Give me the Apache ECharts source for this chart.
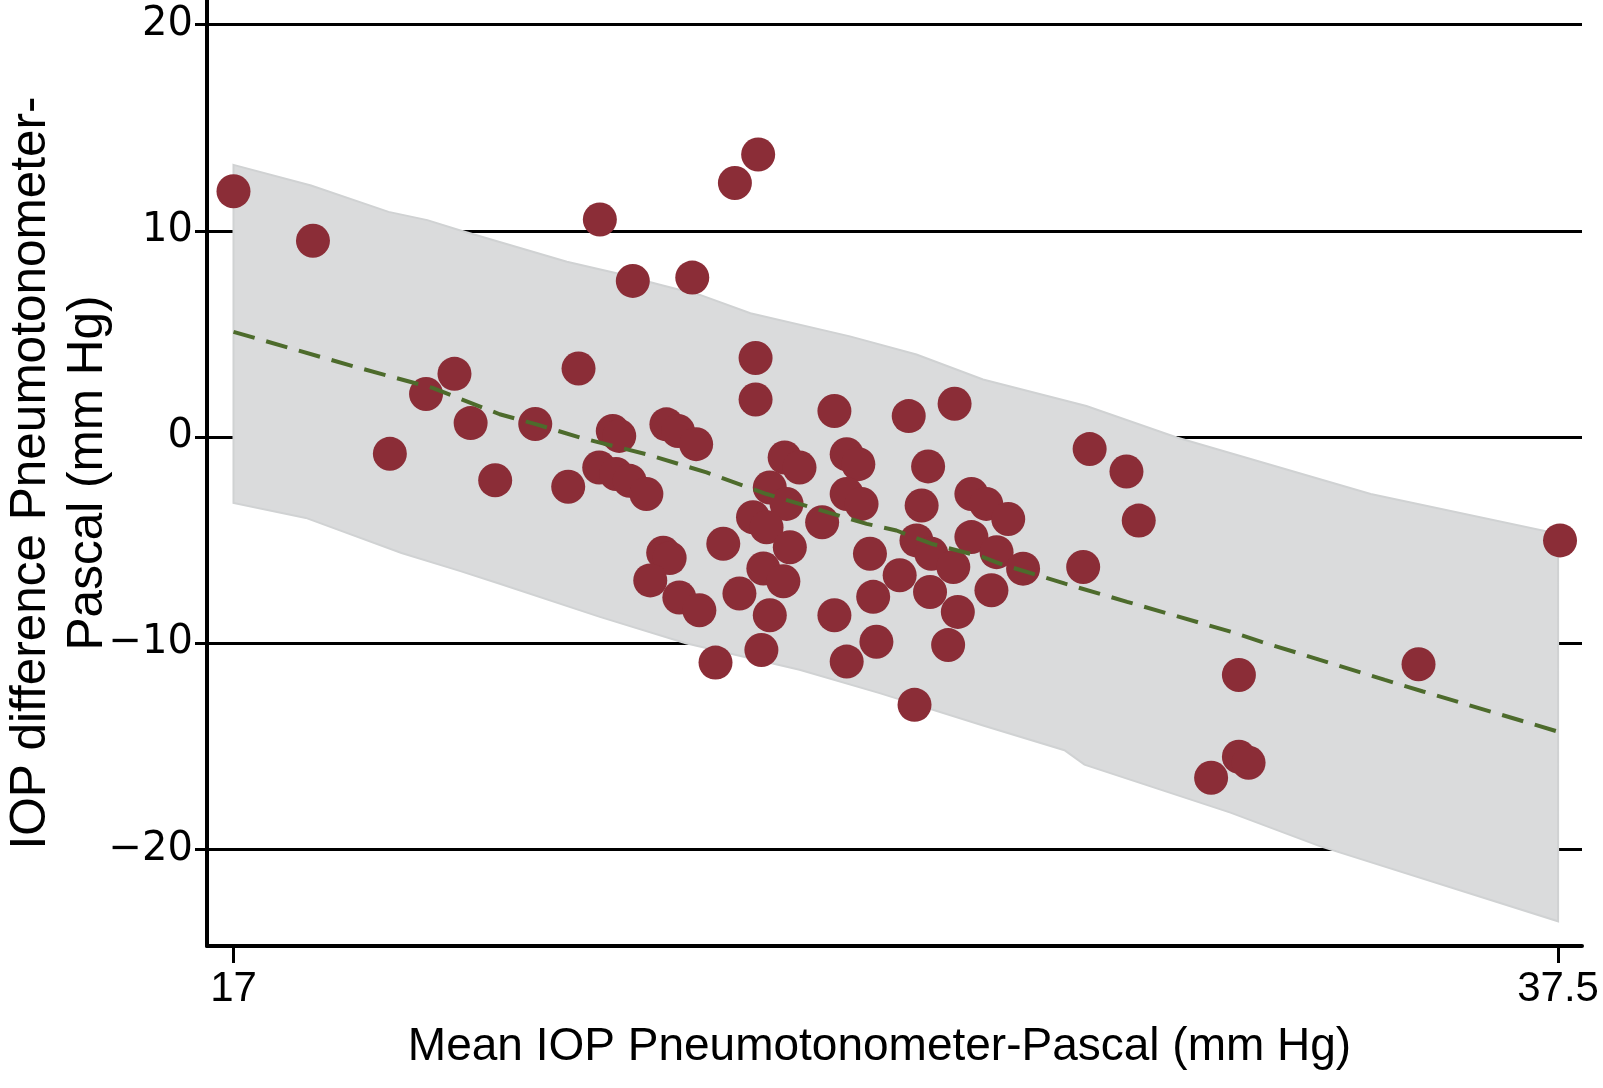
<!DOCTYPE html>
<html>
<head>
<meta charset="utf-8">
<title>IOP difference vs mean</title>
<script src="https://cdn.jsdelivr.net/npm/echarts@6/dist/echarts.min.js"></script>
<style>
  html, body { margin: 0; padding: 0; background: #fff; }
  #chart { width: 1603px; height: 1088px; }
</style>
</head>
<body>
<div id="chart"></div>
<script>
// [mean IOP, difference] per eye, mm Hg
const points = [
  [17.00, 11.92], [18.23, 9.52], [19.42, -0.82], [19.98, 2.08], [20.42, 3.06],
  [20.67, 0.67], [21.05, -2.10], [21.67, 0.63], [22.18, -2.42], [22.34, 3.32],
  [22.67, 10.55], [23.18, 7.57], [24.10, 7.73], [24.76, 12.32], [25.12, 13.70],
  [22.87, 0.29], [22.97, 0.05], [23.70, 0.61], [23.88, 0.29], [24.16, -0.35],
  [22.66, -1.48], [22.92, -1.80], [23.13, -2.13], [23.39, -2.77], [23.65, -5.62],
  [23.75, -5.88], [24.58, -5.18], [23.45, -6.96], [23.90, -7.79], [24.21, -8.41],
  [24.83, -7.60], [24.46, -10.95],
  [25.08, 3.83], [25.08, 1.82], [26.30, 1.26], [25.53, -1.00], [25.76, -1.48],
  [26.49, -0.84], [26.67, -1.32], [25.30, -2.45], [25.56, -3.25], [26.49, -2.77],
  [26.72, -3.25], [26.11, -4.14], [25.04, -3.90], [25.25, -4.38], [25.61, -5.35],
  [25.20, -6.38], [25.51, -7.00], [25.30, -8.65], [25.17, -10.34], [26.30, -8.65],
  [26.85, -5.67], [26.90, -7.76], [26.95, -9.94], [26.49, -10.90],
  [27.45, 1.01], [28.16, 1.61], [27.75, -1.43], [27.65, -3.33], [28.42, -2.77],
  [28.65, -3.25], [28.99, -3.98], [27.57, -5.02], [27.80, -5.67], [28.14, -6.31],
  [28.42, -4.86], [28.81, -5.59], [29.22, -6.39], [27.31, -6.71], [27.78, -7.52],
  [28.73, -7.44], [28.21, -8.49], [28.06, -10.10], [27.54, -13.00],
  [30.25, -0.59], [30.82, -1.68], [31.01, -4.06], [30.15, -6.31], [32.56, -11.55],
  [32.56, -15.52], [32.71, -15.81], [32.13, -16.54], [35.34, -11.03], [37.53, -5.02]
];

// smoothed difference (dashed line)
const fitX = [17, 18.85, 20.08, 21.12, 21.69, 22.36, 23.39, 24.32, 25.25, 26.80, 27.26, 27.80, 28.60, 28.86, 29.87, 30.83, 32.43, 32.91, 34.82, 35.41, 37.5];
const fitY = [5.1, 3.43, 2.38, 1.10, 0.61, -0.03, -0.84, -1.72, -2.77, -4.22, -4.54, -5.18, -5.83, -6.15, -7.12, -8.0, -9.45, -9.94, -11.79, -12.35, -14.3];

// limits band (grey area)
const upperX = [17, 18.2, 19.4, 20.0, 20.5, 22.16, 22.93, 23.6, 24.22, 25.0, 26.54, 27.57, 28.6, 30.2, 31.6, 34.6, 37.5];
const upperY = [13.2, 12.2, 10.92, 10.52, 10.03, 8.5, 7.94, 7.38, 6.89, 6.0, 4.88, 4.0, 2.79, 1.5, -0.03, -2.77, -4.7];
const lowerX = [17, 18.12, 19.6, 20.5, 21.12, 22.67, 24.0, 25.76, 27.0, 28.6, 29.86, 30.17, 32.43, 33.8, 37.5];
const lowerY = [-3.2, -3.93, -5.63, -6.5, -7.12, -8.73, -10.01, -11.3, -12.43, -14.0, -15.2, -15.9, -18.23, -19.84, -23.5];

const xTicks = [17, 37.5];
const yTicks = [-20, -10, 0, 10, 20];

const fontFam = '"Liberation Sans", Arial, sans-serif';

const myChart = echarts.init(document.getElementById('chart'));

const fmtMinus = v => (v < 0 ? '\u2212' + Math.abs(v) : String(v));

const options = {
  animation: false,
  backgroundColor: '#fff',
  grid: {
    left: 207,
    right: 21,
    top: 0,
    bottom: 142,
    containLabel: false,
    outerBoundsMode: 'none'
  },
  xAxis: {
    type: 'value',
    min: 16.59,
    max: 37.87,
    name: 'Mean IOP Pneumotonometer-Pascal (mm Hg)',
    nameLocation: 'middle',
    nameGap: 78,
    nameMoveOverlap: false,
    nameTextStyle: {
      fontFamily: fontFam,
      fontSize: 46,
      color: '#000',
      padding: [0, 30, 0, 0]
    },
    axisLine: { onZero: false, lineStyle: { color: '#000', width: 4 } },
    axisTick: { customValues: xTicks, length: 17, lineStyle: { color: '#000', width: 3 } },
    axisLabel: {
      customValues: xTicks,
      margin: 22,
      fontFamily: fontFam,
      fontSize: 42,
      color: '#000'
    },
    splitLine: { show: false }
  },
  yAxis: {
    type: 'value',
    min: -24.7,
    max: 21.2,
    name: 'IOP difference Pneumotonometer-\nPascal (mm Hg)',
    nameLocation: 'middle',
    nameRotate: 90,
    nameGap: 90,
    nameMoveOverlap: false,
    nameTextStyle: {
      fontFamily: fontFam,
      fontSize: 49.5,
      lineHeight: 57,
      color: '#000'
    },
    axisLine: { onZero: false, lineStyle: { color: '#000', width: 4 } },
    axisTick: { customValues: yTicks, length: 12, lineStyle: { color: '#000', width: 3 } },
    axisLabel: {
      customValues: yTicks,
      margin: 14,
      fontFamily: '"DejaVu Sans", sans-serif',
      fontSize: 40,
      color: '#000',
      formatter: fmtMinus
    },
    splitLine: {
      show: true,
      showMinLine: true,
      showMaxLine: true,
      lineStyle: { color: '#000', width: 3 }
    }
  },
  series: [
    {
      type: 'custom',
      z: 1,
      silent: true,
      data: [[upperX[0], upperY[0]]],
      renderItem: function (params, api) {
        const pts = [];
        for (let i = 0; i < upperX.length; i++) pts.push(api.coord([upperX[i], upperY[i]]));
        for (let i = lowerX.length - 1; i >= 0; i--) pts.push(api.coord([lowerX[i], lowerY[i]]));
        return {
          type: 'polygon',
          shape: { points: pts },
          style: { fill: '#dadbdc', stroke: '#d0d2d3', lineWidth: 2 }
        };
      }
    },
    {
      type: 'scatter',
      z: 3,
      symbol: 'circle',
      symbolSize: 34,
      itemStyle: { color: '#8b2d37', opacity: 1 },
      data: points
    },
    {
      type: 'line',
      z: 4,
      symbol: 'none',
      smooth: false,
      lineStyle: { color: '#4d6b2c', width: 4, type: [22, 12] },
      data: fitX.map((x, i) => [x, fitY[i]])
    }
  ]
};

myChart.setOption(options);
</script>
</body>
</html>
